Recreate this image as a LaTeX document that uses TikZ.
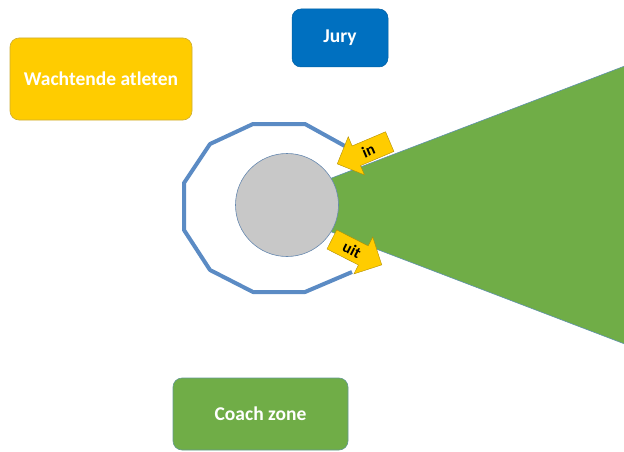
\documentclass[tikz,border=0pt]{standalone}
\usepackage{fontspec}
\setmainfont{Carlito}
\usetikzlibrary{shapes.arrows}
\definecolor{gold}{HTML}{FFCC00}
\definecolor{juryblue}{HTML}{0070C0}
\definecolor{fieldgreen}{HTML}{70AD47}
\definecolor{ringblue}{HTML}{5B8BC4}
\definecolor{disc}{HTML}{C8C8C8}
\tikzset{
  zonebox/.style={rounded corners=9pt, text=white, font=\bfseries\fontsize{19.5}{23}\selectfont, align=center},
  flowarrow/.style={single arrow, fill=gold, draw=gold!70!black, line width=0.4pt,
    text height=11pt, text depth=0pt, inner ysep=5pt, inner xsep=2pt,
    single arrow head extend=10pt,
    font=\bfseries\fontsize{16}{18}\selectfont, text=black},
}
\begin{document}
\begin{tikzpicture}[x=1pt,y=-1pt]
\useasboundingbox (0,0) rectangle (624,452);

% throwing sector
\fill[fieldgreen, draw=ringblue!80!fieldgreen, line width=0.6pt]
  (261,205) -- (630,64) -- (630,346) -- cycle;

% boxes
\node[zonebox, fill=gold, draw=gold!60!gray, line width=0.6pt,
  minimum width=182pt, minimum height=82pt] (wait) at (101,79) {Wachtende atleten};
\node[zonebox, fill=juryblue, draw=juryblue!85!black, line width=0.5pt,
  minimum width=96pt, minimum height=58pt] (jury) at (340,38) {Jury};
\node[zonebox, fill=fieldgreen, draw=ringblue!60!fieldgreen, line width=0.6pt,
  minimum width=175pt, minimum height=72pt] (coach) at (260.5,414) {Coach zone};

% circuit around the throwing circle
\draw[ringblue, line width=4pt, line join=round]
  (352,150) -- (305,124) -- (253,124) -- (210,144) -- (184,183)
  -- (184,230) -- (210,270) -- (253,292) -- (305,292) -- (352,272);

% throwing circle
\node[circle, fill=disc, draw=ringblue!70!gray, line width=0.6pt,
  minimum size=103pt, inner sep=0pt] (ring) at (287,205) {};

% entry and exit arrows
\node[flowarrow, rotate=23, shape border rotate=180, anchor=tip,
  minimum height=57pt] (in) at (337,164) {in};
\node[flowarrow, rotate=-27, anchor=tip,
  minimum height=56pt] (out) at (382,265) {uit};
\end{tikzpicture}
\end{document}
